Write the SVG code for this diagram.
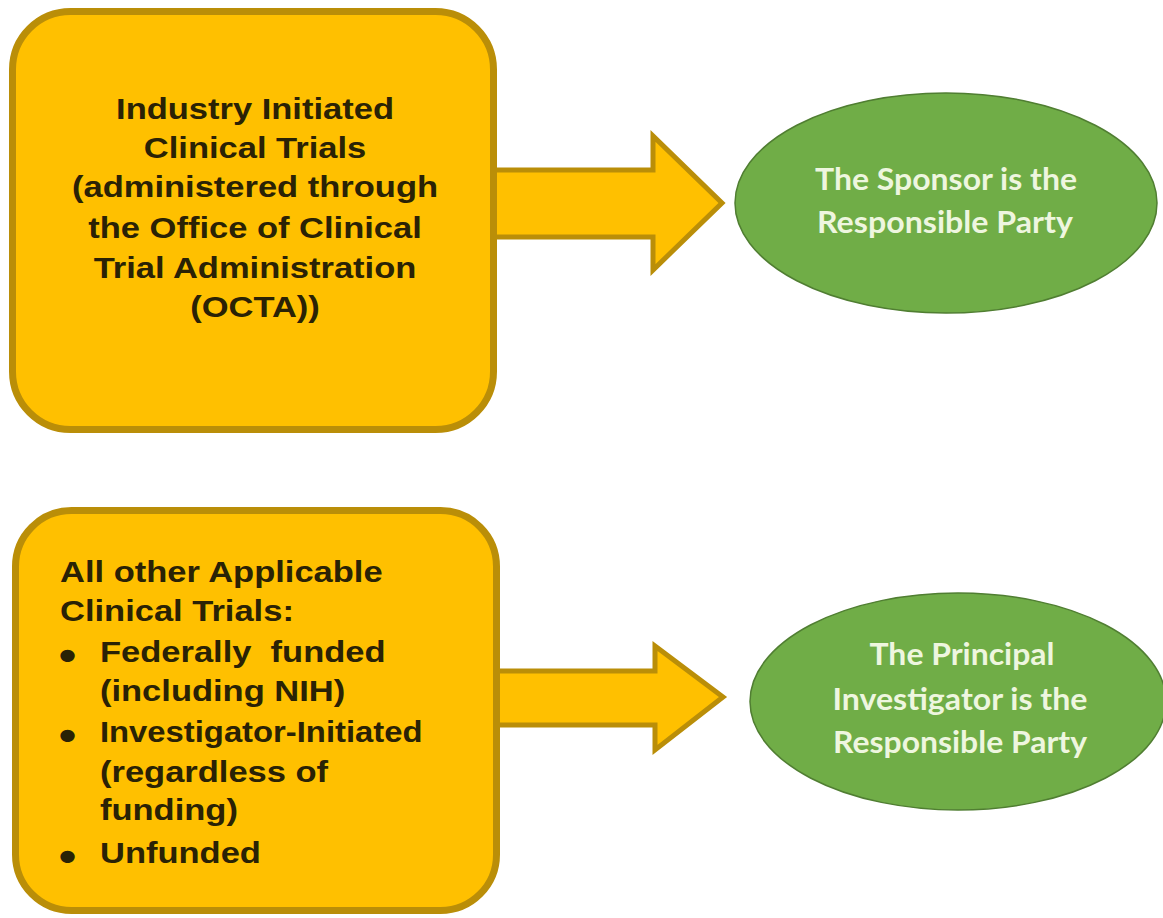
<svg xmlns="http://www.w3.org/2000/svg" width="1163" height="918" viewBox="0 0 1163 918">
  <style>
    .box { fill: #FFC000; stroke: #BA8E08; stroke-width: 7; }
    .arrow { fill: #FFC000; stroke: #BA8E08; stroke-width: 5; stroke-linejoin: miter; }
    .oval { fill: #70AD47; stroke: #507E32; stroke-width: 1.5; }
    .btxt { font-family: "Liberation Sans", Arial, sans-serif; font-weight: bold; font-size: 29px; fill: #2A2205; }
    .bul { font-family: "Liberation Sans", Arial, sans-serif; font-weight: bold; font-size: 42px; fill: #2A2205; }
    .otxt { font-family: Lato, "Open Sans", sans-serif; font-weight: bold; font-size: 31px; fill: #EEF6DF; text-anchor: middle; }
    .pre { white-space: pre; }
  </style>

  <!-- block arrows between the boxes and the outcome ovals -->
  <g id="connectors">
    <polygon class="arrow" points="490,170 653,170 653,136 722,203 653,270 653,237 490,237"/>
    <polygon class="arrow" points="490,671 655,671 655,646 723,697 655,750 655,725 490,725"/>
  </g>

  <!-- industry trials box -->
  <g id="industry-trials">
    <rect class="box" x="12.5" y="11.5" width="481" height="418" rx="58" ry="58"/>
    <g transform="translate(255,0) scale(1.19,1)">
      <text class="btxt" text-anchor="middle" x="0" y="119">Industry Initiated</text>
      <text class="btxt" text-anchor="middle" x="0" y="158">Clinical Trials</text>
      <text class="btxt" text-anchor="middle" x="0" y="197">(administered through</text>
      <text class="btxt" text-anchor="middle" x="0" y="238">the Office of Clinical</text>
      <text class="btxt" text-anchor="middle" x="0" y="278">Trial Administration</text>
      <text class="btxt" text-anchor="middle" x="0" y="317">(OCTA))</text>
    </g>
  </g>

  <!-- other applicable trials box -->
  <g id="other-trials">
    <rect class="box" x="15.5" y="510.5" width="481" height="400" rx="56" ry="56"/>
    <g transform="translate(60,0) scale(1.19,1)">
      <text class="btxt" x="0" y="582">All other Applicable</text>
      <text class="btxt" x="0" y="621">Clinical Trials:</text>
      <text class="bul" x="-1" y="670">•</text>
      <text class="btxt pre" x="33.6" y="662">Federally  funded</text>
      <text class="btxt" x="33.6" y="701">(including NIH)</text>
      <text class="bul" x="-1" y="750">•</text>
      <text class="btxt" x="33.6" y="742" textLength="271" lengthAdjust="spacingAndGlyphs">Investigator-Initiated</text>
      <text class="btxt" x="33.6" y="782">(regardless of</text>
      <text class="btxt" x="33.6" y="820">funding)</text>
      <text class="bul" x="-1" y="871">•</text>
      <text class="btxt" x="33.6" y="863">Unfunded</text>
    </g>
  </g>

  <!-- sponsor outcome -->
  <g id="sponsor-party">
    <ellipse class="oval" cx="946" cy="203" rx="211" ry="110"/>
    <text class="otxt" x="946" y="190" textLength="262" lengthAdjust="spacingAndGlyphs">The Sponsor is the</text>
    <text class="otxt" x="945" y="233" textLength="256" lengthAdjust="spacingAndGlyphs">Responsible Party</text>
  </g>

  <!-- principal investigator outcome -->
  <g id="pi-party">
    <ellipse class="oval" cx="958" cy="701.5" rx="208" ry="108.5"/>
    <text class="otxt" x="962" y="665" textLength="185" lengthAdjust="spacingAndGlyphs">The Principal</text>
    <text class="otxt" x="960" y="710" textLength="255" lengthAdjust="spacingAndGlyphs">Investigator is the</text>
    <text class="otxt" x="960" y="753" textLength="254" lengthAdjust="spacingAndGlyphs">Responsible Party</text>
  </g>
</svg>
